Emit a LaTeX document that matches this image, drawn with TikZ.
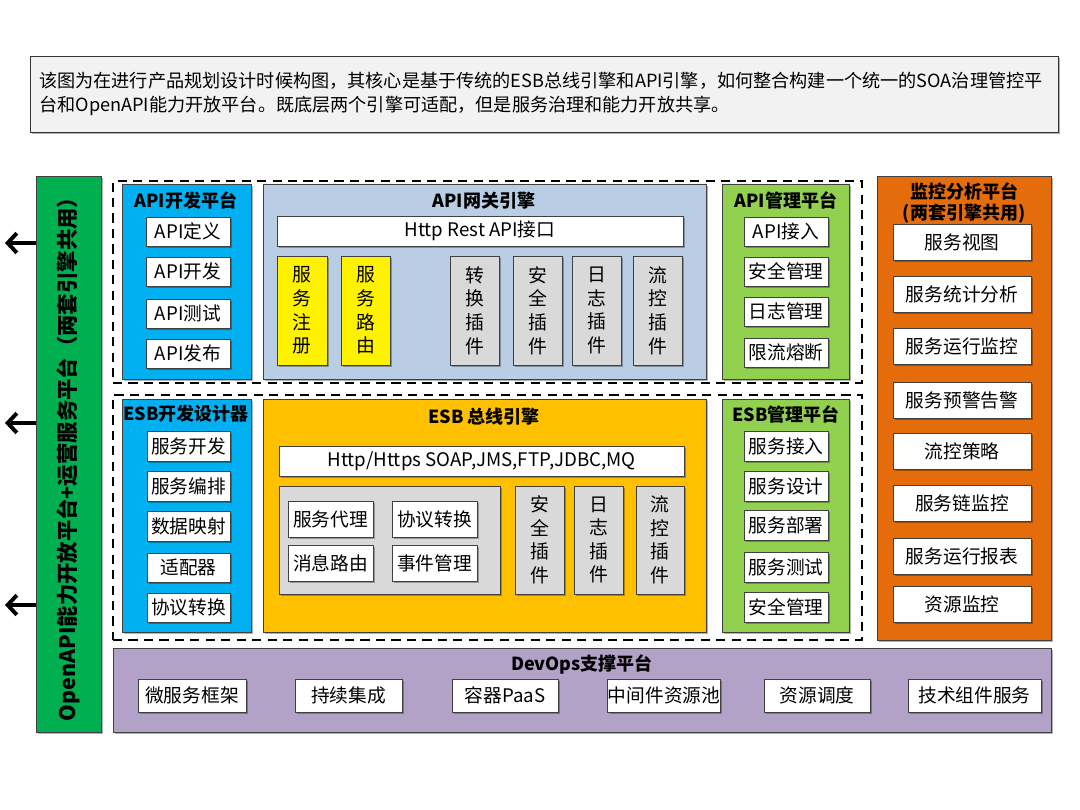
\documentclass[tikz,border=0pt]{standalone}
\usepackage{fontspec}
\setmainfont{Noto Sans CJK SC}
\usetikzlibrary{arrows.meta}
\usetikzlibrary{shadows}
\usetikzlibrary{positioning}
\newlength\pxu
\setlength\pxu{0.025cm}
\definecolor{notefill}{HTML}{F2F2F2}
\definecolor{barGreen}{HTML}{00B050}
\definecolor{devBlue}{HTML}{00B0F0}
\definecolor{gwBlue}{HTML}{B9CDE5}
\definecolor{plugGray}{HTML}{D9D9D9}
\definecolor{mgrGreen}{HTML}{92D050}
\definecolor{monOrange}{HTML}{E46C0A}
\definecolor{esbGold}{HTML}{FFC000}
\definecolor{opsPurple}{HTML}{B3A2C7}
\tikzset{
  box/.style={draw=black!75, line width=0.6pt, inner sep=0pt, align=center,
    font=\fontsize{13.3}{15}\selectfont,
    drop shadow={shadow xshift=1.2pt, shadow yshift=-1.2pt, opacity=0.3, fill=black}},
  item/.style={box, fill=white},
  vitem/.style={box, font=\fontsize{13.4}{16.8}\selectfont},
  panel/.style={box},
  ttl/.style={font=\bfseries\fontsize{12.8}{14}\selectfont, inner sep=0pt},
  dashbox/.style={draw=black, line width=2pt, dash pattern=on 6.5pt off 4.5pt, inner sep=0pt},
  outarr/.style={line width=2.8pt, -{Straight Barb[length=6.5pt,width=14pt]}},
}
% name, style, x1, y1, x2, y2, text
\newcommand\blk[7]{%
  \node[#2, minimum width={(#5-#3)*\pxu}, minimum height={(#6-#4)*\pxu}]
    (#1) at ({(#3+#5)/2},{(#4+#6)/2}) {#7};}

\begin{document}
\begin{tikzpicture}[x=0.025cm, y=-0.025cm]
  \useasboundingbox (0,0) rectangle (1080,810);

  % note
  \blk{note}{box, fill=notefill, draw=black!80}{30}{56}{1058}{132}{}
  \node[anchor=west, align=left, inner sep=0pt, font=\fontsize{12.9}{16.6}\selectfont] (notetxt) at (39,94)
    {该图为在进行产品规划设计时候构图，其核心是基于传统的ESB总线引擎和API引擎，如何整合构建一个统一的SOA治理管控平\\台和OpenAPI能力开放平台。既底层两个引擎可适配，但是服务治理和能力开放共享。};

  % left bar
  \blk{openapi}{panel, fill=barGreen}{36}{176}{101}{732}{}
  \node[rotate=90, font=\bfseries\fontsize{15.2}{18}\selectfont, inner sep=0pt] (openapiT) at (openapi.center)
    {OpenAPI能力开放平台+运营服务平台（两套引擎共用）};
  \coordinate (out1) at (5,243);
  \coordinate (out2) at (5,423);
  \coordinate (out3) at (5,605);
  \draw[outarr] (openapi.west |- out1) -- (out1);
  \draw[outarr] (openapi.west |- out2) -- (out2);
  \draw[outarr] (openapi.west |- out3) -- (out3);

  % api layer
  \blk{apiLayer}{dashbox}{113}{181}{862}{383}{}
  \blk{apiDev}{panel, fill=devBlue}{122}{184}{251}{379}{}
  \node[ttl] (apiDevT) at (186,200) {API开发平台};
  \blk{apiDef}{item}{146}{217}{230}{246}{API定义}
  \blk{apiBuild}{item}{146}{257}{230}{286}{API开发}
  \blk{apiTest}{item}{146}{299}{230}{328}{API测试}
  \blk{apiPub}{item}{146}{339}{230}{368}{API发布}

  \blk{gw}{panel, fill=gwBlue}{263}{184}{706}{379}{}
  \node[ttl] (gwT) at (484,201) {API网关引擎};
  \blk{rest}{item}{277}{216}{683}{246}{Http Rest API接口}
  \blk{reg}{vitem, fill=yellow}{277}{256}{327}{365}{服\\务\\注\\册}
  \blk{route}{vitem, fill=yellow}{341}{256}{390}{365}{服\\务\\路\\由}
  \blk{gwConv}{vitem, fill=plugGray}{450}{256}{499}{365}{转\\换\\插\\件}
  \blk{gwSec}{vitem, fill=plugGray}{513}{256}{562}{365}{安\\全\\插\\件}
  \blk{gwLog}{vitem, fill=plugGray}{572}{256}{621}{365}{日\\志\\插\\件}
  \blk{gwFlow}{vitem, fill=plugGray}{633}{256}{682}{365}{流\\控\\插\\件}

  \blk{apiMgr}{panel, fill=mgrGreen}{722}{184}{849}{379}{}
  \node[ttl] (apiMgrT) at (786,200) {API管理平台};
  \blk{apiIn}{item}{744}{217}{828}{246}{API接入}
  \blk{apiSec}{item}{744}{257}{828}{286}{安全管理}
  \blk{apiLog}{item}{744}{297}{828}{326}{日志管理}
  \blk{apiLimit}{item}{744}{338}{828}{367}{限流熔断}

  % esb layer
  \blk{esbLayer}{dashbox}{113}{395}{862}{640}{}
  \blk{esbDev}{panel, fill=devBlue}{122}{399}{251}{632}{}
  \node[ttl] (esbDevT) at (186,414) {ESB开发设计器};
  \blk{svcDev}{item}{147}{431}{230}{461}{服务开发}
  \blk{svcOrch}{item}{147}{471}{230}{501}{服务编排}
  \blk{dataMap}{item}{147}{511}{230}{541}{数据映射}
  \blk{adapter}{item}{147}{553}{230}{582}{适配器}
  \blk{protoDev}{item}{147}{593}{230}{622}{协议转换}

  \blk{esb}{panel, fill=esbGold}{263}{399}{706}{632}{}
  \node[ttl] (esbT) at (484,417) {ESB 总线引擎};
  \blk{proto}{item}{279}{446}{684}{476}{Http/Https SOAP,JMS,FTP,JDBC,MQ}
  \blk{core}{panel, fill=plugGray}{279}{486}{500}{594}{}
  \blk{proxy}{item}{288}{501}{373}{537}{服务代理}
  \blk{conv}{item}{392}{501}{477}{537}{协议转换}
  \blk{msgRoute}{item}{288}{545}{373}{581}{消息路由}
  \blk{event}{item}{392}{545}{477}{581}{事件管理}
  \blk{esbSec}{vitem, fill=plugGray}{515}{486}{564}{594}{安\\全\\插\\件}
  \blk{esbLog}{vitem, fill=plugGray}{574}{486}{623}{594}{日\\志\\插\\件}
  \blk{esbFlow}{vitem, fill=plugGray}{636}{486}{684}{594}{流\\控\\插\\件}

  \blk{esbMgr}{panel, fill=mgrGreen}{722}{399}{849}{632}{}
  \node[ttl] (esbMgrT) at (786,414) {ESB管理平台};
  \blk{svcIn}{item}{744}{431}{828}{461}{服务接入}
  \blk{svcDesign}{item}{744}{471}{828}{501}{服务设计}
  \blk{svcDeploy}{item}{744}{510}{828}{540}{服务部署}
  \blk{svcTest}{item}{744}{552}{828}{582}{服务测试}
  \blk{svcSec}{item}{744}{592}{828}{622}{安全管理}

  % monitor
  \blk{mon}{panel, fill=monOrange}{877}{176}{1051}{640}{}
  \node[ttl, align=center, font=\bfseries\fontsize{12.8}{15.5}\selectfont] (monT) at (964,203) {监控分析平台\\(两套引擎共用)};
  \blk{monView}{item}{893}{224}{1031}{260}{服务视图}
  \blk{monStat}{item}{893}{276}{1031}{312}{服务统计分析}
  \blk{monRun}{item}{893}{328}{1031}{364}{服务运行监控}
  \blk{monWarn}{item}{893}{382}{1031}{418}{服务预警告警}
  \blk{monFlow}{item}{893}{433}{1031}{469}{流控策略}
  \blk{monChain}{item}{893}{485}{1031}{521}{服务链监控}
  \blk{monReport}{item}{893}{538}{1031}{574}{服务运行报表}
  \blk{monRes}{item}{893}{586}{1031}{622}{资源监控}

  % devops
  \blk{ops}{panel, fill=opsPurple}{113}{648}{1051}{732}{}
  \node[ttl] (opsT) at (582,664) {DevOps支撑平台};
  \blk{micro}{item}{138}{679}{246}{712}{微服务框架}
  \blk{ci}{item}{295}{679}{402}{712}{持续集成}
  \blk{paas}{item}{452}{679}{558}{712}{容器PaaS}
  \blk{mid}{item}{610}{679}{718}{712}{中间件资源池}
  \blk{sched}{item}{764}{679}{870}{712}{资源调度}
  \blk{tech}{item}{908}{679}{1041}{712}{技术组件服务}
\end{tikzpicture}
\end{document}
